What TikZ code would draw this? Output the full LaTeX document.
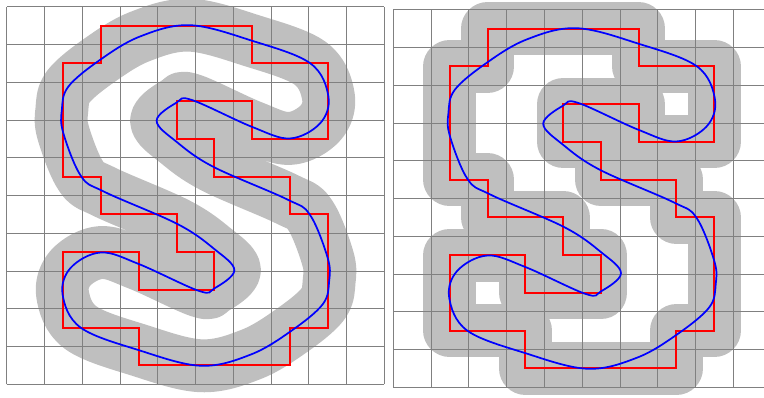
\documentclass[tikz,border=0pt]{standalone}
\tikzset{
  gridline/.style={draw=gray, line width=0.5pt},
  band/.style={draw=gray!50, line width=1.4cm, line join=round, line cap=round},
  redline/.style={draw=red, line width=1.5pt},
  blueline/.style={draw=blue, line width=1.3pt},
}
\newcommand\Scurve{plot[smooth cycle, tension=0.6] coordinates {
 (4.85,9.51) (6.49,9.1) (8.04,8.5) (8.52,7.62) (8.3,6.91) (7.5,6.51) (6.49,6.82)
 (4.9,7.53) (4.5,7.46) (3.97,6.98) (4.5,6.42) (5.47,5.76) (7.42,4.9) (8.03,4.49)
 (8.5,3.35) (8.54,2.74) (8.37,2.12) (7.53,1.41) (6.47,0.79)
 (5.15,0.49) (3.51,0.9) (1.96,1.5) (1.48,2.38) (1.7,3.09) (2.5,3.49) (3.51,3.18)
 (5.1,2.47) (5.5,2.54) (6.03,3.02) (5.5,3.58) (4.53,4.24) (2.58,5.1) (1.97,5.51)
 (1.5,6.65) (1.46,7.26) (1.63,7.88) (2.47,8.59) (3.53,9.21)}}
\newcommand\Spoly{(2.5,9.5) -- (6.5,9.5) -- (6.5,8.5) -- (8.5,8.5) -- (8.5,6.5) -- (6.5,6.5)
 -- (6.5,7.5) -- (4.5,7.5) -- (4.5,6.5) -- (5.5,6.5) -- (5.5,5.5) -- (7.5,5.5) -- (7.5,4.5)
 -- (8.5,4.5) -- (8.5,1.5) -- (7.5,1.5) -- (7.5,0.5) -- (3.5,0.5) -- (3.5,1.5) -- (1.5,1.5)
 -- (1.5,3.5) -- (3.5,3.5) -- (3.5,2.5) -- (5.5,2.5) -- (5.5,3.5) -- (4.5,3.5) -- (4.5,4.5)
 -- (2.5,4.5) -- (2.5,5.5) -- (1.5,5.5) -- (1.5,8.5) -- (2.5,8.5) -- cycle}
\begin{document}
\begin{tikzpicture}[x=1cm,y=1cm]
\useasboundingbox (-0.1774,-0.363) rectangle (20.056,10.177);
\clip (-0.1774,-0.363) rectangle (20.056,10.177);
% left panel
\begin{scope}
  \draw[band] \Scurve;
  \draw[gridline] (0,0) grid (10,10);
  \draw[redline] \Spoly;
  \draw[blueline] \Scurve;
\end{scope}
% right panel
\begin{scope}[shift={(10.238,-0.0795)}]
  \draw[band] \Spoly;
  \draw[gridline] (0,0) grid (10,10);
  \draw[redline] \Spoly;
  \draw[blueline] \Scurve;
\end{scope}
\end{tikzpicture}
\end{document}
